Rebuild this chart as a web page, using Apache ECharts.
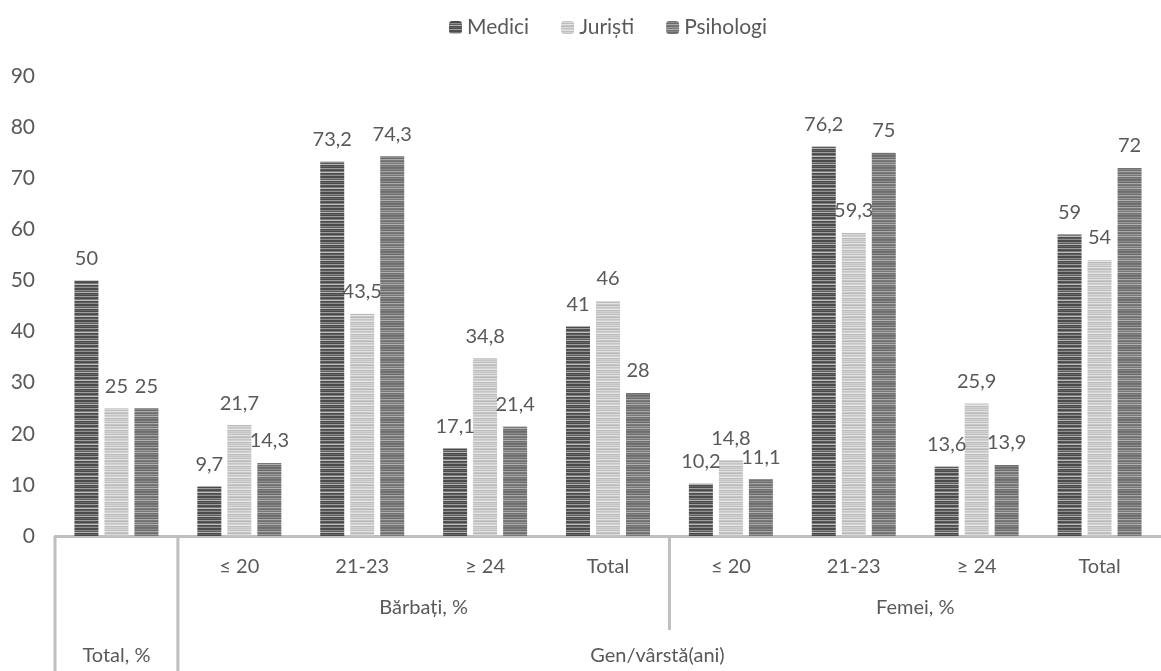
<!DOCTYPE html>
<html><head><meta charset="utf-8">
<script src="https://cdn.jsdelivr.net/npm/echarts@6/dist/echarts.min.js"></script>
<style>html,body{margin:0;padding:0;background:#fff}#c{width:1161px;height:671px}</style>
</head><body><div id="c"></div>
<script>
const categories = ['', '≤ 20', '21-23', '≥ 24', 'Total', '≤ 20', '21-23', '≥ 24', 'Total'];
const groupLabels = ['Total, %', 'Bărbați, %', 'Femei, %'];
const axisTitle = 'Gen/vârstă(ani)';
const seriesNames = ['Medici', 'Juriști', 'Psihologi'];
const medici =    [50, 9.7, 73.2, 17.1, 41, 10.2, 76.2, 13.6, 59];
const juristi =   [25, 21.7, 43.5, 34.8, 46, 14.8, 59.3, 25.9, 54];
const psihologi = [25, 14.3, 74.3, 21.4, 28, 11.1, 75, 13.9, 72];
const yTicks = { min: 0, max: 90, interval: 10 };

const FONT = 'Lato, "Open Sans", sans-serif';
const FS = 20;
const TXT = '#595959';

function stripes(rows) {
  const c = document.createElement('canvas');
  c.width = 4; c.height = rows.length;
  const ctx = c.getContext('2d');
  rows.forEach((col, i) => { ctx.fillStyle = col; ctx.fillRect(0, i, 4, 1); });
  return { image: c, repeat: 'repeat' };
}
const pMedici = stripes(['#4a4a4a','#4a4a4a','#8c8c8c','#5a5a5a','#b5b5b5','#4a4a4a','#666','#4a4a4a','#9e9e9e','#555','#4a4a4a','#7a7a7a','#c0c0c0','#4a4a4a','#5e5e5e','#8f8f8f']);
const pJuristi = stripes(['#c4c4c4','#d8d8d8','#bdbdbd','#e2e2e2','#c8c8c8','#b8b8b8','#dcdcdc','#c4c4c4','#cfcfcf','#e6e6e6','#bcbcbc','#d0d0d0']);
const pPsih = stripes(['#737373','#8a8a8a','#6b6b6b','#a8a8a8','#7a7a7a','#6e6e6e','#9a9a9a','#777','#b0b0b0','#707070','#858585','#6a6a6a']);

const chart = echarts.init(document.getElementById('c'));
const fmt = p => String(p.value).replace('.', ',');
function mk(name, data, color) {
  return {
    name, type: 'bar', data, barWidth: 24, barGap: '25%',
    itemStyle: { color },
    label: { show: true, position: 'top', distance: 12, formatter: fmt,
             fontFamily: FONT, fontSize: FS, color: TXT }
  };
}
chart.setOption({
  animation: false,
  textStyle: { fontFamily: FONT },
  legend: {
    top: 12, left: 444, itemWidth: 13, itemHeight: 13, itemGap: 32,
    textStyle: { fontFamily: FONT, fontSize: 21, color: TXT },
    data: seriesNames
  },
  grid: { left: 55, right: -11, top: 76, bottom: 135, containLabel: false },
  xAxis: {
    type: 'category', data: categories,
    axisLine: { lineStyle: { color: '#bfbfbf', width: 3 } },
    axisTick: { show: false },
    axisLabel: { margin: 21, fontFamily: FONT, fontSize: FS, color: TXT, interval: 0 }
  },
  yAxis: {
    type: 'value', min: yTicks.min, max: yTicks.max, interval: yTicks.interval,
    splitLine: { show: false }, axisLine: { show: false }, axisTick: { show: false },
    axisLabel: { margin: 20, fontFamily: FONT, fontSize: 21, color: TXT }
  },
  series: [mk(seriesNames[0], medici, pMedici), mk(seriesNames[1], juristi, pJuristi), mk(seriesNames[2], psihologi, pPsih)]
});

// multi-level axis decorations from the axis scale
const c0 = chart.convertToPixel({ xAxisIndex: 0 }, 0);
const c1 = chart.convertToPixel({ xAxisIndex: 0 }, 1);
const bw = c1 - c0;
const edge = i => c0 - bw / 2 + i * bw;
const y0 = chart.convertToPixel({ yAxisIndex: 0 }, 0);
const lineStyle = { stroke: '#bfbfbf', lineWidth: 3 };
const txt = (x, y, t) => ({ type: 'text', x, y, style: { text: t, fill: TXT, font: FS + 'px ' + FONT, textAlign: 'center', textVerticalAlign: 'middle' } });
chart.setOption({
  graphic: [
    { type: 'line', shape: { x1: edge(0), y1: y0, x2: edge(0), y2: 671 }, style: lineStyle },
    { type: 'line', shape: { x1: edge(1), y1: y0, x2: edge(1), y2: 671 }, style: lineStyle },
    { type: 'line', shape: { x1: edge(5), y1: y0, x2: edge(5), y2: y0 + 94 }, style: lineStyle },
    txt((edge(1) + edge(5)) / 2, y0 + 72, groupLabels[1]),
    txt((edge(5) + edge(9)) / 2, y0 + 72, groupLabels[2]),
    txt((edge(0) + edge(1)) / 2, y0 + 120, groupLabels[0]),
    txt((edge(1) + edge(9)) / 2 - 12, y0 + 120, axisTitle)
  ]
});
</script></body></html>
